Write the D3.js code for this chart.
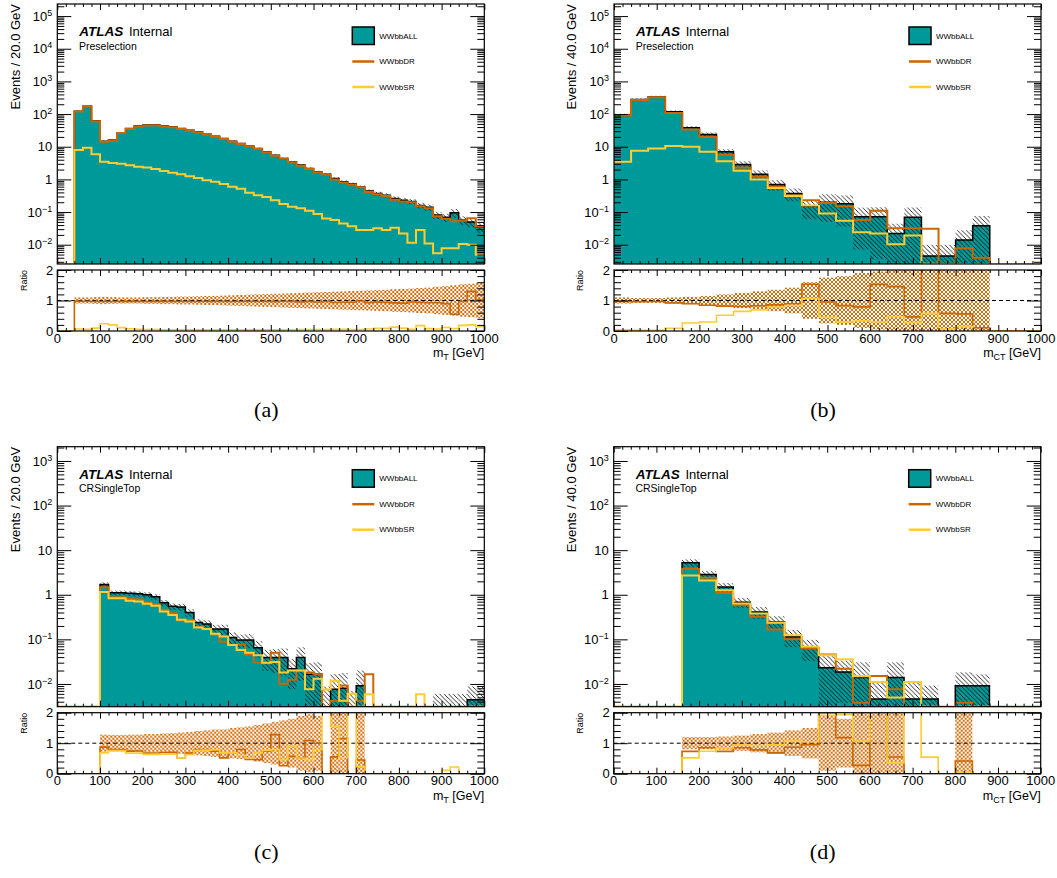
<!DOCTYPE html>
<html><head><meta charset="utf-8">
<script src="https://cdn.jsdelivr.net/npm/d3@7"></script>
<style>
body{margin:0;background:#fff}
svg{display:block}
text{font-family:"Liberation Sans",Arial,Helvetica,sans-serif;fill:#000}
</style>
</head><body>
<svg id="c" width="1057" height="878"></svg>
<script>
// ---------------- DATA ----------------
const seriesNames = ["WWbbALL", "WWbbDR", "WWbbSR"];
const xTickLabels = ["0","100","200","300","400","500","600","700","800","900","1000"];

// (a) m_T, Preselection, 20 GeV bins 0..1000
const allA = [0,0,123,174,62,14.8,16,27,36,43,46,47,43,41,36,32,28.6,24.3,21,17.9,14.8,12.6,10.6,8.9,7.0,5.5,4.4,3.45,2.74,2.16,1.7,1.45,1.07,0.85,0.72,0.59,0.44,0.37,0.33,0.26,0.23,0.21,0.16,0.14,0.081,0.069,0.095,0.057,0.05,0.035];
const drA  = [0,0,120,170,60,14.3,15.5,26.2,35,41.7,44.6,45.6,41.7,39.8,34.9,31,27.7,23.6,20.4,17.4,14.3,12.2,10.3,8.6,6.8,5.3,4.3,3.35,2.62,2.1,1.62,1.4,1.0,0.80,0.68,0.58,0.41,0.35,0.31,0.24,0.21,0.20,0.15,0.13,0.075,0.062,0.052,0.055,0.065,0.036];
const srA  = [0,0,7.9,9.3,5.9,3.5,3.2,3.0,2.7,2.45,2.3,2.07,1.8,1.6,1.45,1.25,1.1,0.95,0.85,0.72,0.6,0.52,0.39,0.33,0.29,0.23,0.176,0.146,0.13,0.11,0.087,0.064,0.057,0.045,0.037,0.028,0.028,0.032,0.028,0.033,0.022,0.0115,0.028,0.011,0.0055,0.0078,0.0078,0.0105,0.01,0.0049];
// stat. error of WWbbALL (main-plot hatch), relative
const errA = [0,0,0.02,0.02,0.03,0.05,0.05,0.04,0.03,0.03,0.03,0.03,0.03,0.03,0.03,0.03,0.04,0.04,0.04,0.04,0.05,0.05,0.05,0.05,0.06,0.06,0.06,0.07,0.07,0.08,0.08,0.09,0.09,0.10,0.11,0.11,0.12,0.13,0.14,0.16,0.17,0.18,0.2,0.22,0.25,0.28,0.3,0.3,0.32,0.35];
// ratio-panel uncertainty band, relative
const bandA = [0,0,0.10,0.10,0.11,0.12,0.11,0.10,0.10,0.10,0.11,0.11,0.12,0.12,0.13,0.13,0.14,0.15,0.15,0.16,0.17,0.18,0.19,0.20,0.21,0.22,0.23,0.24,0.25,0.26,0.27,0.28,0.29,0.30,0.31,0.32,0.33,0.34,0.35,0.37,0.38,0.39,0.41,0.42,0.45,0.47,0.50,0.53,0.55,0.58];

// (b) m_CT, Preselection, 40 GeV bins
const allB = [93,280,336,117,38,23.7,7.0,2.87,1.45,0.70,0.37,0.15,0.20,0.18,0.072,0.072,0.022,0.069,0.0045,0.0045,0.0139,0.038,0,0,0];
const drB  = [90,270,325,108,34,20,5.7,2.3,1.2,0.6,0.33,0.23,0.19,0.15,0.057,0.11,0.032,0.032,0.031,0.0026,0.0078,0.004,0,0,0];
const srB  = [3.45,7.5,8.9,10.6,10,7.0,3.6,1.85,1.0,0.55,0.31,0.16,0.09,0.054,0.024,0.022,0.0103,0.019,0.0026,0.0003,0.002,0,0,0,0];
const errB = [0.1,0.08,0.08,0.1,0.12,0.15,0.2,0.25,0.3,0.35,0.42,0.6,0.75,0.8,0.9,0.95,1.0,1.0,1.2,1.2,1.0,1.0,0,0,0];

// (c) m_T, CRSingleTop, 20 GeV bins
const allC = [0,0,0,0,0,1.70,1.11,1.11,1.08,1.05,1.00,0.90,0.66,0.55,0.53,0.40,0.24,0.22,0.17,0.17,0.11,0.097,0.097,0.065,0.039,0.039,0.039,0.022,0.039,0.0165,0.0165,0.0025,0.0076,0.0080,0.002,0.0091,0,0,0,0,0,0,0,0,0.002,0.002,0.002,0.002,0.0044,0.0044];
const drC  = [0,0,0,0,0,1.48,0.88,0.88,0.80,0.78,0.68,0.61,0.46,0.385,0.276,0.27,0.19,0.174,0.126,0.088,0.075,0.077,0.045,0.03,0.029,0.05,0.0101,0.0125,0.02,0.018,0.0165,0,0.0042,0.0092,0,0.0041,0.0165,0,0,0,0,0,0,0,0,0,0,0,0,0];
const srC  = [0,0,0,0,0,1.16,0.84,0.84,0.73,0.71,0.63,0.57,0.42,0.35,0.276,0.25,0.185,0.17,0.134,0.116,0.075,0.058,0.05,0.044,0.03,0.031,0.018,0.02,0.02,0.0076,0.013,0.0075,0.0118,0.0042,0.006,0.0022,0.0059,0,0,0,0,0,0.0059,0,0,0.00022,0.00044,0,0,0];
const errC = [0,0,0,0,0,0.12,0.12,0.12,0.13,0.13,0.14,0.15,0.16,0.17,0.18,0.19,0.2,0.22,0.24,0.25,0.3,0.32,0.35,0.4,0.5,0.55,0.6,0.65,0.7,0.8,0.85,2.5,1.2,1.2,2.5,1.2,0,0,0,0,0,0,0,0,2.0,2.0,2.0,2.0,1.0,1.0];
const bandC = [0,0,0,0,0,0.28,0.27,0.27,0.28,0.28,0.30,0.30,0.32,0.33,0.35,0.37,0.40,0.42,0.45,0.45,0.50,0.52,0.55,0.60,0.65,0.70,0.75,0.80,0.90,0.95,0.90,2.5,1.2,1.2,2.5,1.2,0,0,0,0,0,0,0,0,2.0,2.0,2.0,2.0,1.0,1.0];

// (d) m_CT, CRSingleTop, 40 GeV bins
const allD = [0,0,0,0,5.2,2.85,1.5,0.68,0.41,0.245,0.115,0.065,0.023,0.0186,0.0139,0.0046,0.0139,0.0046,0.0046,0,0.0091,0.0091,0,0,0];
const drD  = [0,0,0,0,3.8,2.42,1.1,0.58,0.32,0.167,0.1,0.062,0.046,0.022,0.0038,0.015,0.0076,0,0,0,0.0038,0,0,0,0];
const srD  = [0,0,0,0,2.7,2.1,1.27,0.64,0.38,0.235,0.123,0.068,0.044,0.036,0.0149,0.011,0.005,0.011,0.0025,0,0.0004,0,0,0,0];
const errD = [0,0,0,0,0.2,0.2,0.22,0.25,0.3,0.35,0.42,0.5,0.9,0.8,1.2,1.5,1.2,1.5,1.0,0,1.0,0.8,0,0,0];

// ---------------- STYLE ----------------
const TEAL = "#009999", DRC = "#cc6600", SRC = "#ffcc33";
const W = 427, MAIN_H = 260, R_TOP = 266, R_H = 61;

const panels = [
  {left:57.3, top:4, all:allA, dr:drA, sr:srA, err:errA, band:bandA, yExp:[-2.59,5.37], ylabel:"Events / 20.0 GeV", region:"Preselection", xsub:"T", cap:"(a)"},
  {left:614, top:4, all:allB, dr:drB, sr:srB, err:errB, band:errB, yExp:[-2.59,5.37], ylabel:"Events / 40.0 GeV", region:"Preselection", xsub:"CT", cap:"(b)"},
  {left:57.3, top:446.7, all:allC, dr:drC, sr:srC, err:errC, band:bandC, yExp:[-2.51,3.32], ylabel:"Events / 20.0 GeV", region:"CRSingleTop", xsub:"T", cap:"(c)"},
  {left:613.7, top:446.7, all:allD, dr:drD, sr:srD, err:errD, band:errD, yExp:[-2.51,3.32], ylabel:"Events / 40.0 GeV", region:"CRSingleTop", xsub:"CT", cap:"(d)"}
];

const svg = d3.select("#c");
const defs = svg.append("defs");
const hp = defs.append("pattern").attr("id","hatch").attr("patternUnits","userSpaceOnUse").attr("width",4.5).attr("height",4.5);
hp.append("path").attr("d","M-1,-1L5.5,5.5M-1,3.5L1,5.5M3.5,-1L5.5,1").attr("stroke","#000").attr("stroke-width",0.8);
const cp = defs.append("pattern").attr("id","cross").attr("patternUnits","userSpaceOnUse").attr("width",4).attr("height",4);
cp.append("path").attr("d","M0,0L4,4M4,0L0,4M-1,3L1,5M3,-1L5,1M-1,1L1,-1M3,5L5,3").attr("stroke",DRC).attr("stroke-width",0.95);

function tickAxis(g, scale, orient, values, size, tx, ty) {
  const ax = orient==="left" ? d3.axisLeft(scale) : orient==="right" ? d3.axisRight(scale) :
             orient==="top" ? d3.axisTop(scale) : d3.axisBottom(scale);
  ax.tickValues(values).tickSize(-size).tickFormat("");
  const a = g.append("g").attr("transform", `translate(${tx},${ty})`).call(ax);
  a.select(".domain").remove();
  a.selectAll("line").attr("stroke","#000").attr("stroke-width",1);
}

panels.forEach((p, pi) => {
  const g = svg.append("g").attr("transform", `translate(${p.left},${p.top})`);
  const n = p.all.length, bw = 1000 / n;
  const edges = d3.range(n + 1).map(i => i * bw);
  const x = d3.scaleLinear().domain([0, 1000]).range([0, W]);
  const yMin = Math.pow(10, p.yExp[0]), yMax = Math.pow(10, p.yExp[1]);
  const y = d3.scaleLog().domain([yMin, yMax]).range([MAIN_H, 0]);
  const yr = d3.scaleLinear().domain([0, 2]).range([R_TOP + R_H, R_TOP]);
  const cl = v => Math.max(v, yMin);

  defs.append("clipPath").attr("id","cm"+pi).append("rect").attr("x",0).attr("y",0).attr("width",W).attr("height",MAIN_H);
  defs.append("clipPath").attr("id","cr"+pi).append("rect").attr("x",0).attr("y",R_TOP).attr("width",W).attr("height",R_H);

  const pts = arr => edges.map((e, i) => [e, arr[Math.min(i, n - 1)]]);
  const area = d3.area().curve(d3.curveStepAfter).x(d => x(d[0])).y0(MAIN_H).y1(d => y(cl(d[1])));
  const line = d3.line().curve(d3.curveStepAfter).x(d => x(d[0])).y(d => y(cl(d[1])));

  const mg = g.append("g").attr("clip-path", `url(#cm${pi})`);
  mg.append("path").attr("d", area(pts(p.all))).attr("fill", TEAL);
  mg.append("path").attr("d", line(pts(p.all))).attr("fill","none").attr("stroke","#000").attr("stroke-width",1.5);
  const hatchBins = p.all.map((v, i) => ({v, e: p.err[i], i})).filter(d => d.e > 0 && d.v > 0);
  mg.selectAll("rect.h").data(hatchBins).enter().append("rect")
    .attr("x", d => x(edges[d.i])).attr("width", d => x(edges[d.i + 1]) - x(edges[d.i]))
    .attr("y", d => y(cl(d.v * (1 + d.e))))
    .attr("height", d => y(cl(d.v * (1 - d.e))) - y(cl(d.v * (1 + d.e))))
    .attr("fill", "url(#hatch)");
  mg.append("path").attr("d", line(pts(p.dr))).attr("fill","none").attr("stroke",DRC).attr("stroke-width",2);
  mg.append("path").attr("d", line(pts(p.sr))).attr("fill","none").attr("stroke",SRC).attr("stroke-width",2);

  // ratio
  const rg = g.append("g").attr("clip-path", `url(#cr${pi})`);
  const ratio = arr => arr.map((v, i) => p.all[i] > 0 ? Math.min(v / p.all[i], 2.3) : 0);
  const bandBins = p.all.map((v, i) => ({v, e: p.band[i], d: p.dr[i], i})).filter(d => d.v > 0 && d.d > 0 && d.e > 0);
  rg.selectAll("rect.b").data(bandBins).enter().append("rect")
    .attr("x", d => x(edges[d.i])).attr("width", d => x(edges[d.i + 1]) - x(edges[d.i]))
    .attr("y", d => yr(Math.min(1 + d.e, 2.1)))
    .attr("height", d => yr(Math.max(1 - d.e, -0.1)) - yr(Math.min(1 + d.e, 2.1)))
    .attr("fill", "url(#cross)");
  rg.append("line").attr("x1",0).attr("x2",W).attr("y1",yr(1)).attr("y2",yr(1))
    .attr("stroke","#000").attr("stroke-width",1).attr("stroke-dasharray","4,3");
  const rline = d3.line().curve(d3.curveStepAfter).x(d => x(d[0])).y(d => yr(d[1]));
  rg.append("path").attr("d", rline(pts(ratio(p.dr)))).attr("fill","none").attr("stroke",DRC).attr("stroke-width",1.6);
  rg.append("path").attr("d", rline(pts(ratio(p.sr)))).attr("fill","none").attr("stroke",SRC).attr("stroke-width",1.6);

  // ticks main
  const majors = d3.range(Math.ceil(p.yExp[0]), Math.floor(p.yExp[1]) + 1).map(e => Math.pow(10, e));
  const minors = [];
  d3.range(Math.floor(p.yExp[0]), Math.floor(p.yExp[1]) + 1).forEach(e => {
    for (let m = 2; m <= 9; m++) { const v = m * Math.pow(10, e); if (v > yMin && v < yMax) minors.push(v); }
  });
  const xMaj = d3.range(0, 1001, 100), xMin = d3.range(0, 1001, 20).filter(v => v % 100 !== 0);
  tickAxis(g, y, "left", majors, 14, 0, 0);
  tickAxis(g, y, "left", minors, 7, 0, 0);
  tickAxis(g, y, "right", majors, 14, W, 0);
  tickAxis(g, y, "right", minors, 7, W, 0);
  tickAxis(g, x, "top", xMaj, 6, 0, 0);
  tickAxis(g, x, "top", xMin, 3, 0, 0);
  tickAxis(g, x, "bottom", xMaj, 6, 0, MAIN_H);
  tickAxis(g, x, "bottom", xMin, 3, 0, MAIN_H);
  const rMaj = [0, 1, 2], rMin = [0.2,0.4,0.6,0.8,1.2,1.4,1.6,1.8];
  tickAxis(g, yr, "left", rMaj, 14, 0, 0);
  tickAxis(g, yr, "left", rMin, 7, 0, 0);
  tickAxis(g, yr, "right", rMaj, 14, W, 0);
  tickAxis(g, yr, "right", rMin, 7, W, 0);
  tickAxis(g, x, "top", xMaj, 6, 0, R_TOP);
  tickAxis(g, x, "top", xMin, 3, 0, R_TOP);
  tickAxis(g, x, "bottom", xMaj, 6, 0, R_TOP + R_H);
  tickAxis(g, x, "bottom", xMin, 3, 0, R_TOP + R_H);

  g.append("rect").attr("x",0).attr("y",0).attr("width",W).attr("height",MAIN_H).attr("fill","none").attr("stroke","#000").attr("stroke-width",1.2);
  g.append("rect").attr("x",0).attr("y",R_TOP).attr("width",W).attr("height",R_H).attr("fill","none").attr("stroke","#000").attr("stroke-width",1.2);

  majors.forEach(v => {
    const e = Math.round(Math.log10(v));
    const t = g.append("text").attr("x", -5).attr("y", y(v)).attr("dy","0.36em").attr("text-anchor","end").attr("font-size",13);
    if (e === 0) t.text("1");
    else if (e === 1) t.text("10");
    else {
      t.append("tspan").text("10");
      t.append("tspan").attr("dy","-0.55em").attr("font-size",9).text(e < 0 ? "\u2212" + (-e) : String(e));
    }
  });
  rMaj.forEach(v => {
    g.append("text").attr("x",-4).attr("y",yr(v)).attr("dy","0.36em").attr("text-anchor","end").attr("font-size",13).text(String(v));
  });
  xMaj.forEach((v, i) => {
    g.append("text").attr("x", x(v)).attr("y", R_TOP + R_H + 11.5).attr("text-anchor","middle").attr("font-size",13).text(xTickLabels[i]);
  });
  const xt = g.append("text").attr("x", W).attr("y", 353).attr("text-anchor","end").attr("font-size",12.5);
  xt.append("tspan").text("m");
  xt.append("tspan").attr("dy", 3).attr("font-size", 9).text(p.xsub);
  xt.append("tspan").attr("dy", -3).text(" [GeV]");
  g.append("text").attr("transform","translate(-37.8,0) rotate(-90)").attr("text-anchor","end").attr("font-size",13).text(p.ylabel);
  g.append("text").attr("transform",`translate(-30.8,${R_TOP}) rotate(-90)`).attr("text-anchor","end").attr("font-size",9).text("Ratio");

  g.append("text").attr("x",22).attr("y",32).attr("font-size",13.5).attr("font-weight","bold").attr("font-style","italic").text("ATLAS");
  g.append("text").attr("x",71.7).attr("y",32).attr("font-size",13).text("Internal");
  g.append("text").attr("x",21.7).attr("y",45.5).attr("font-size",10.5).text(p.region);

  const lx = 295;
  g.append("rect").attr("x",lx).attr("y",23).attr("width",22).attr("height",17.5).attr("fill",TEAL).attr("stroke","#000").attr("stroke-width",1.5);
  g.append("line").attr("x1",lx).attr("x2",lx+22).attr("y1",57.5).attr("y2",57.5).attr("stroke",DRC).attr("stroke-width",2.5);
  g.append("line").attr("x1",lx).attr("x2",lx+22).attr("y1",83).attr("y2",83).attr("stroke",SRC).attr("stroke-width",2.5);
  [31.7, 57.5, 83].forEach((yy, i) => {
    g.append("text").attr("x", lx + 27).attr("y", yy).attr("dy","0.35em").attr("font-size",8).attr("fill","#222").text(seriesNames[i]);
  });

  svg.append("text").attr("x", p.left + 209).attr("y", p.top + 412.5).attr("text-anchor","middle")
    .attr("font-size",22).style("font-family","'Liberation Serif','DejaVu Serif',serif").text(p.cap);
});
</script>
</body></html>
